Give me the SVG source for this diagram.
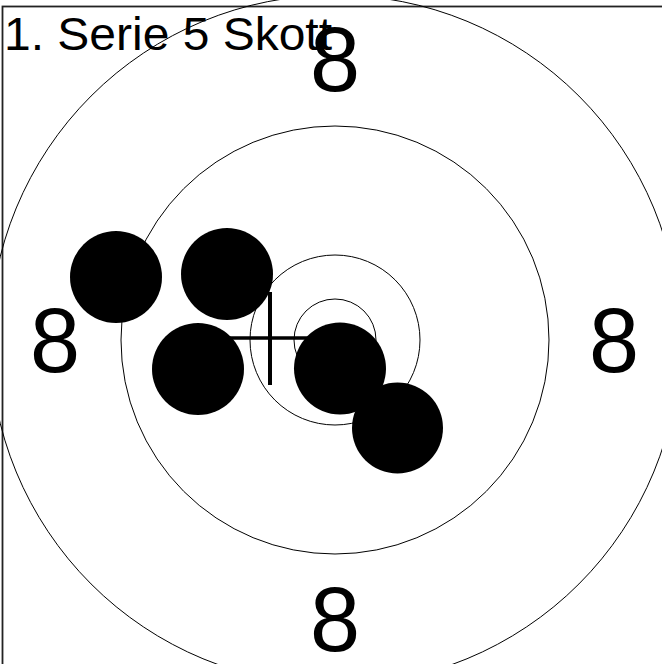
<svg xmlns="http://www.w3.org/2000/svg" width="662" height="664" viewBox="0 0 662 664">
  <style>
    .ring { fill: none; stroke: #000; stroke-width: 1; }
    .shot { fill: #000; stroke: none; }
    .num { font-family: "Liberation Sans", Arial, sans-serif; font-size: 90px; fill: #000; text-anchor: middle; }
    .title { font-family: "Liberation Sans", Arial, sans-serif; font-size: 46px; fill: #000; }
    .frame { fill: none; stroke: #222; stroke-width: 1.8; }
  </style>
  <rect width="662" height="664" fill="#fff"/>
  <rect id="frame" class="frame" x="2.5" y="6.5" width="720" height="720"/>
  <g id="target">
    <circle class="ring" cx="335" cy="340" r="345"/>
    <circle class="ring" cx="335" cy="340" r="214"/>
    <circle class="ring" cx="335" cy="340" r="85"/>
    <circle class="ring" cx="335" cy="340" r="41"/>
  </g>
  <g id="labels">
    <text class="num" x="335" y="91">8</text>
    <text class="num" x="55" y="372">8</text>
    <text class="num" x="614" y="372">8</text>
    <text class="num" x="335" y="651">8</text>
  </g>
  <g id="crosshair" stroke="#000">
    <line x1="224" y1="338" x2="316" y2="338" stroke-width="3.5"/>
    <line x1="270" y1="292" x2="270" y2="385" stroke-width="4"/>
  </g>
  <g id="shots">
    <circle class="shot" cx="116" cy="277" r="46"/>
    <circle class="shot" cx="227" cy="274" r="46"/>
    <circle class="shot" cx="198" cy="369" r="46"/>
    <circle class="shot" cx="340" cy="368.5" r="46"/>
    <circle class="shot" cx="397.5" cy="428" r="45.5"/>
  </g>
  <text id="title" class="title" x="4" y="50" textLength="328" lengthAdjust="spacingAndGlyphs">1. Serie 5 Skott</text>
</svg>
